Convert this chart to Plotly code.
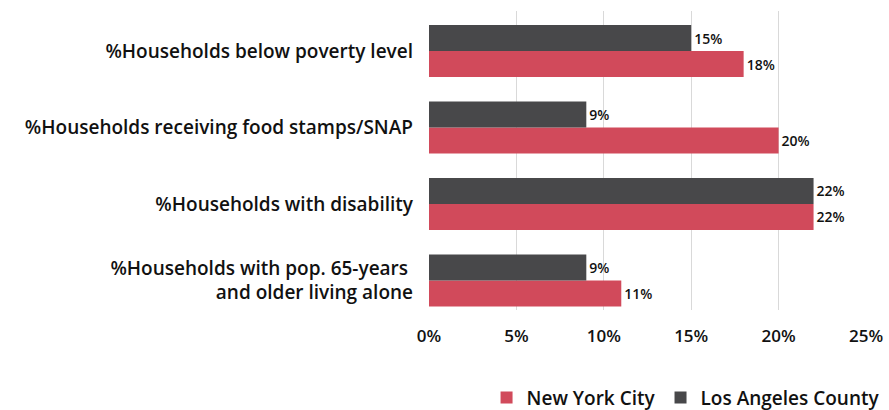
import plotly.graph_objects as go

# Categories listed bottom-to-top on the y axis
categories = [
    "%Households with pop. 65-years <br>and older living alone",
    "%Households with disability",
    "%Households receiving food stamps/SNAP",
    "%Households below poverty level",
]
nyc_values = [11, 22, 20, 18]
la_values = [9, 22, 9, 15]
x_ticks = [0, 5, 10, 15, 20, 25]
x_tick_labels = ["0%", "5%", "10%", "15%", "20%", "25%"]

FONT = "Open Sans"
RED = "#D14A5B"
GRAY = "#48484A"
INK = "#111111"

def bar_font(size, weight=600):
    return dict(family=FONT, size=size, color=INK, weight=weight)

fig = go.Figure()
fig.add_trace(go.Bar(
    name="New York City", y=categories, x=nyc_values, orientation="h",
    marker=dict(color=RED, line=dict(width=0)),
    text=[f"{v}%" for v in nyc_values], textposition="outside",
    textfont=bar_font(14), cliponaxis=False,
))
fig.add_trace(go.Bar(
    name="Los Angeles County", y=categories, x=la_values, orientation="h",
    marker=dict(color=GRAY, line=dict(width=0)),
    text=[f"{v}%" for v in la_values], textposition="outside",
    textfont=bar_font(14), cliponaxis=False,
))

fig.update_layout(
    width=889, height=410,
    margin=dict(l=429, r=23, t=11, b=100, autoexpand=False),
    paper_bgcolor="white", plot_bgcolor="white",
    barmode="group", bargap=0.32, bargroupgap=0,
    font=bar_font(19),
    showlegend=True,
    legend=dict(
        orientation="h", xref="container", x=0.995, xanchor="right",
        yref="container", y=0.03, yanchor="middle",
        font=bar_font(19), itemwidth=30, traceorder="normal",
    ),
    xaxis=dict(
        range=[0, 25], tickvals=x_ticks, ticktext=x_tick_labels,
        showgrid=True, gridcolor="#D9D9D9", gridwidth=1,
        zeroline=False, showline=False, ticks="",
        ticklabelstandoff=14, tickfont=bar_font(17),
        fixedrange=True,
    ),
    yaxis=dict(
        range=[-0.386, 3.523], showgrid=False, zeroline=False, showline=False,
        ticks="", ticklabelstandoff=15, tickfont=bar_font(19),
        fixedrange=True,
    ),
)

fig.write_html("out.html")
